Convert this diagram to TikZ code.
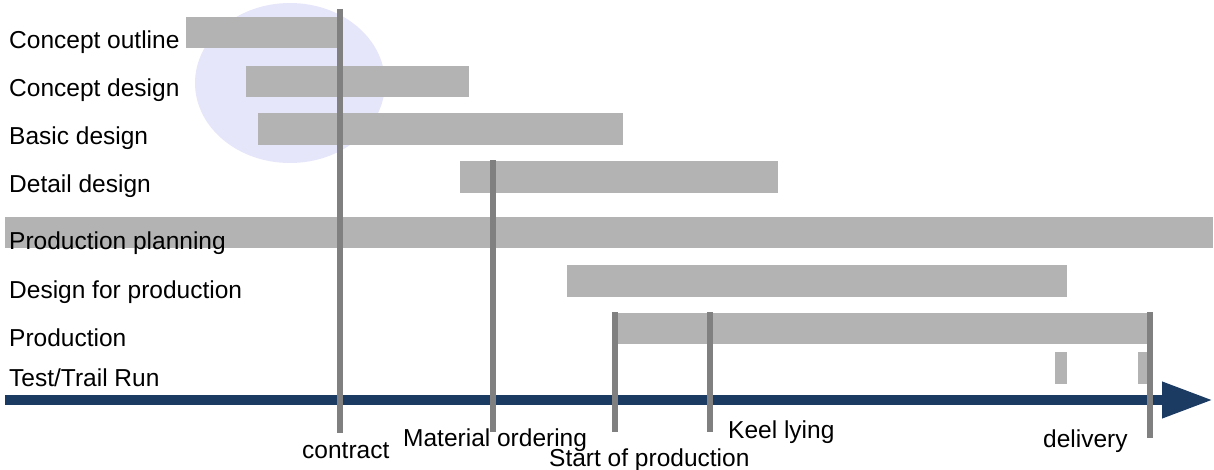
\documentclass[tikz,border=0pt]{standalone}
\usepackage{fontspec}
\setmainfont{Liberation Sans}
\usetikzlibrary{arrows.meta}
\definecolor{barfill}{HTML}{B3B3B3}
\definecolor{mileline}{HTML}{808080}
\definecolor{haze}{HTML}{E6E6FA}
\definecolor{axisblue}{HTML}{1B3B63}
\begin{document}
\begin{tikzpicture}[x=1pt,y=-1pt,
  bar/.style={fill=barfill},
  milestone/.style={draw=mileline,line width=6pt},
  lbl/.style={anchor=base west,inner sep=0pt,font=\fontsize{24.5}{28}\selectfont},
  timeaxis/.style={draw=axisblue,line width=10pt}]
\useasboundingbox (0,0) rectangle (1214,470);

% highlighted early design phase
\fill[haze] (290,83) ellipse [x radius=95,y radius=80];

% activity bars
\path[bar] (186,17) rectangle (338,48);
\path[bar] (246,66) rectangle (469,97);
\path[bar] (258,113) rectangle (623,145);
\path[bar] (460,161) rectangle (778,193);
\path[bar] (5,217) rectangle (1213,248);
\path[bar] (567,265) rectangle (1067,297);
\path[bar] (613,313) rectangle (1150,344);
\path[bar] (1055,352) rectangle (1067,384);
\path[bar] (1138,352) rectangle (1148,384);

% activity names
\node[lbl] (l1) at (9,49) {Concept outline};
\node[lbl] (l2) at (9,97) {Concept design};
\node[lbl] (l3) at (9,145) {Basic design};
\node[lbl] (l4) at (9,193) {Detail design};
\node[lbl] (l5) at (9,249) {Production planning};
\node[lbl] (l6) at (9,298) {Design for production};
\node[lbl] (l7) at (9,346) {Production};
\node[lbl] (l8) at (9,386) {Test/Trail Run};

% time axis
\coordinate (t0) at (5,400);
\coordinate (t1) at (1213,400);
\draw[timeaxis,-{Triangle[length=51pt,width=34pt]}] (t0) -- (t1);

% milestones
\coordinate (c0) at (340,9);    \coordinate (c1) at (340,433);
\coordinate (m0) at (493,160);  \coordinate (m1) at (493,432);
\coordinate (s0) at (615,312);  \coordinate (s1) at (615,432);
\coordinate (k0) at (710,312);  \coordinate (k1) at (710,432);
\coordinate (d0) at (1150,312); \coordinate (d1) at (1150,438);
\draw[milestone] (c0) -- (c1);
\draw[milestone] (m0) -- (m1);
\draw[milestone] (s0) -- (s1);
\draw[milestone] (k0) -- (k1);
\draw[milestone] (d0) -- (d1);

% milestone names
\node[lbl] (n1) at (302,458) {contract};
\node[lbl] (n2) at (403,446) {Material ordering};
\node[lbl] (n3) at (549,466) {Start of production};
\node[lbl] (n4) at (728,438) {Keel lying};
\node[lbl] (n5) at (1043,447) {delivery};
\end{tikzpicture}
\end{document}
